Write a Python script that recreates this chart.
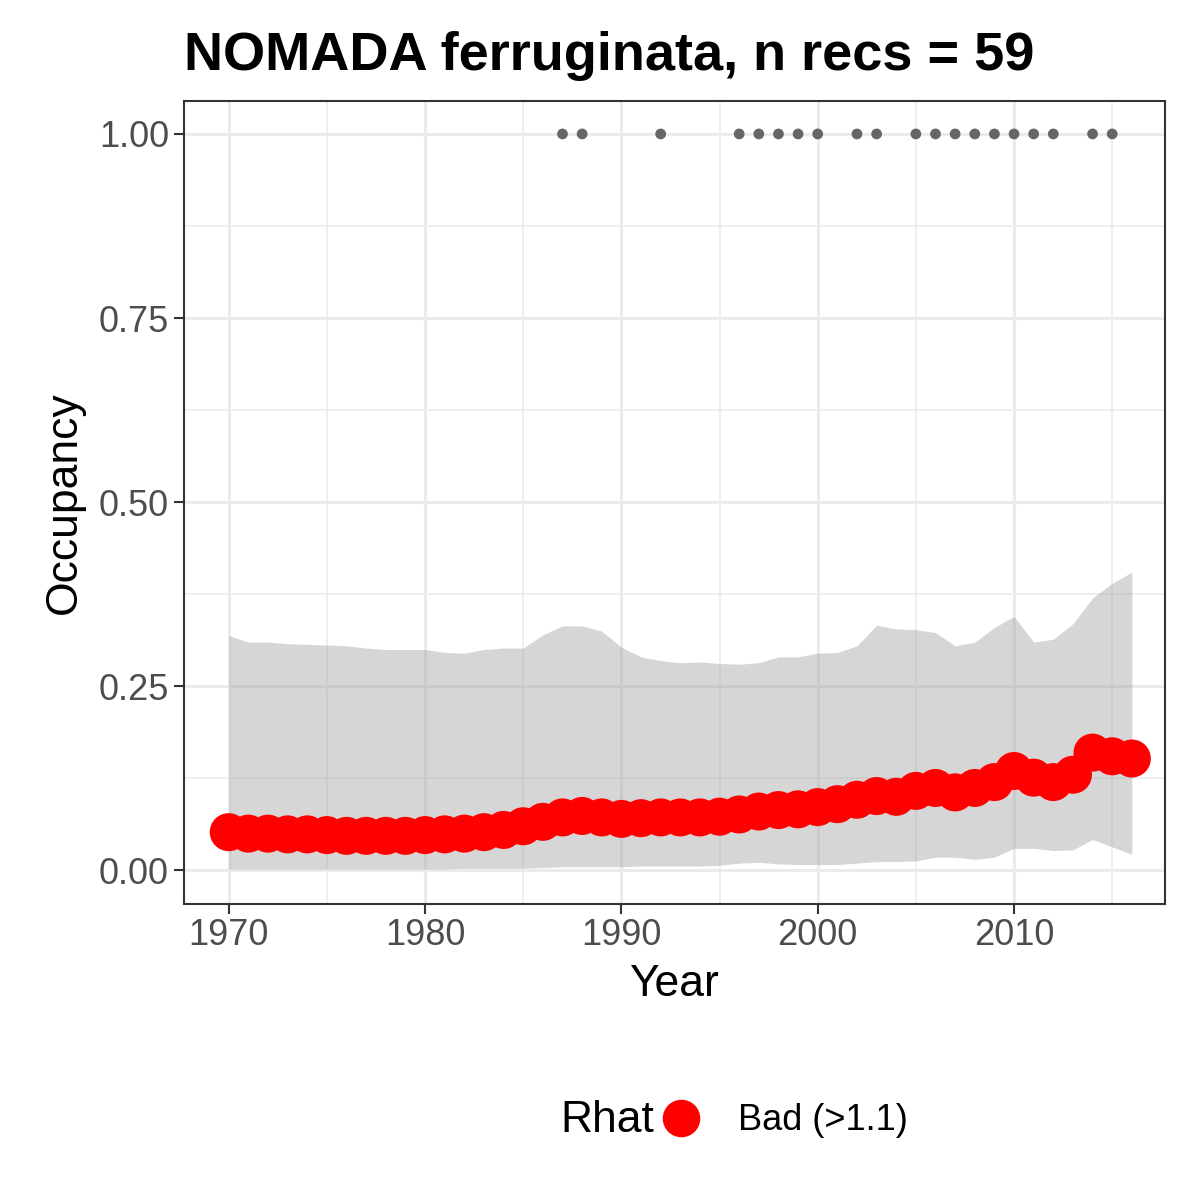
import numpy as np, pandas as pd, seaborn as sns, matplotlib
matplotlib.use("Agg")
import matplotlib.pyplot as plt
from matplotlib.lines import Line2D

years = list(range(1970, 2017))
mean = [.052,.050,.050,.049,.049,.048,.047,.047,.047,.047,.048,.049,.050,.052,.055,.060,.066,.072,.074,.072,.070,.071,.072,.072,.072,.073,.076,.080,.082,.083,.086,.090,.096,.101,.100,.108,.112,.106,.112,.120,.135,.126,.120,.130,.160,.155,.152]
upper = [.319,.310,.310,.308,.307,.306,.305,.302,.300,.300,.300,.296,.295,.300,.302,.302,.320,.332,.332,.325,.303,.290,.285,.282,.283,.281,.280,.282,.290,.290,.295,.296,.305,.333,.328,.327,.323,.305,.310,.330,.345,.310,.314,.335,.370,.390,.405]
lower = [.002,.002,.002,.002,.002,.002,.002,.002,.002,.002,.002,.002,.003,.003,.003,.003,.004,.005,.005,.005,.005,.006,.006,.006,.006,.007,.010,.011,.009,.008,.008,.008,.010,.012,.012,.013,.018,.018,.015,.018,.030,.030,.027,.028,.042,.032,.022]
rec_years = [1987,1988,1992,1996,1997,1998,1999,2000,2002,2003,2005,2006,2007,2008,2009,2010,2011,2012,2014,2015]

df = pd.DataFrame({"Year": years, "Occupancy": mean, "lo": lower, "hi": upper})
sns.set_theme(style="whitegrid")
plt.rcParams['font.family'] = ['Liberation Sans', 'DejaVu Sans']
fig = plt.figure(figsize=(12, 12), dpi=100)
ax = fig.add_axes([0.153, 0.247, 0.818, 0.669])
ax.fill_between(df.Year, df.lo, df.hi, color="#999999", alpha=0.4, linewidth=0)
sns.scatterplot(x=rec_years, y=[1.0]*len(rec_years), color="#666666", s=60, edgecolor="none", ax=ax)
sns.scatterplot(data=df, x="Year", y="Occupancy", color="red", s=750, edgecolor="none", ax=ax, zorder=3)
ax.set_xlim(1967.7, 2017.7)
ax.set_ylim(-0.045, 1.045)
ax.set_xticks([1970,1980,1990,2000,2010])
ax.set_yticks([0,0.25,0.5,0.75,1.0])
ax.set_yticklabels(["0.00","0.25","0.50","0.75","1.00"])
ax.set_xticks([1975,1985,1995,2005,2015], minor=True)
ax.set_yticks([0.125,0.375,0.625,0.875], minor=True)
ax.grid(which="major", color="#ebebeb", linewidth=2.2)
ax.grid(which="minor", color="#ebebeb", linewidth=1.1)
for s in ax.spines.values():
    s.set_color("#333333"); s.set_linewidth(1.5)
ax.tick_params(axis="both", which="major", labelsize=26, labelcolor="#4d4d4d", length=7, width=1.5, color="#333333", left=True, bottom=True)
ax.tick_params(which="minor", length=0)
ax.set_xlabel("Year", fontsize=32, labelpad=8, color="black")
ax.set_ylabel("Occupancy", fontsize=32, labelpad=10, color="black")
ax.set_title("NOMADA ferruginata, n recs = 59", fontsize=39, fontweight="bold", loc="left", x=0.0, pad=22, color="black")
fig.text(0.545, 0.066, "Rhat", fontsize=32, ha="right", va="center", color="black")
h = [Line2D([], [], marker="o", color="red", linestyle="none", markersize=26)]
fig.legend(h, ["Bad (>1.1)"], loc="center left", bbox_to_anchor=(0.51, 0.066), frameon=False, fontsize=26, handletextpad=0.6, labelcolor="black")
fig.savefig("out.png", dpi=100)
